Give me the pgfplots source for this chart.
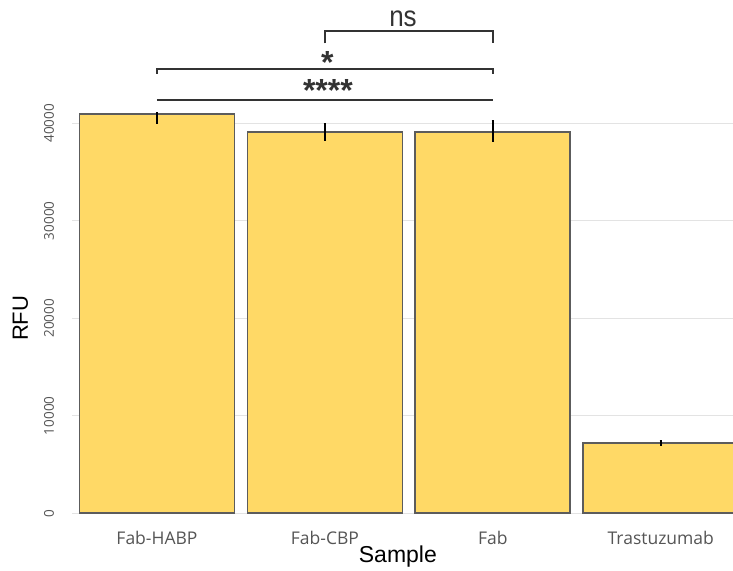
\documentclass[border=0pt]{standalone}
\usepackage{pgfplots}
\pgfplotsset{compat=1.18}
\usepackage{fontspec}
\setmainfont{Liberation Sans}
\newfontfamily\tickfont{Open Sans}
\definecolor{barfill}{HTML}{FFD966}
\definecolor{baredge}{HTML}{5C5C5C}
\definecolor{tickgray}{HTML}{555555}
\definecolor{gridgray}{HTML}{E3E3E3}
\definecolor{brk}{HTML}{333333}
\begin{document}
\begin{tikzpicture}
\useasboundingbox (0bp,0bp) rectangle (733bp,571bp);
\begin{axis}[
  at={(72bp,57.7bp)}, anchor=south west,
  width=661bp, height=487.5bp, scale only axis,
  xmin=-0.506, xmax=3.43, ymin=0, ymax=50000,
  clip=false,
  axis line style={draw=none},
  major tick length=0pt,
  ymajorgrids, grid style={color=gridgray, line width=1bp},
  ytick={0,10000,20000,30000,40000},
  scaled y ticks=false,
  /pgf/number format/.cd, 1000 sep={}, assume math mode=true, /pgfplots/.cd,
  xtick={0,1,2,3},
  xticklabels={Fab-HABP,Fab-CBP,Fab,Trastuzumab},
  xticklabel style={anchor=center, yshift=-25bp, font=\tickfont\fontsize{17.5bp}{17.5bp}\selectfont, color=tickgray},
  yticklabel style={anchor=center, xshift=-23bp, rotate=90, font=\tickfont\fontsize{13.5bp}{13.5bp}\selectfont, color=tickgray},
  xlabel={Sample}, ylabel={RFU},
  xlabel style={at={(axis description cs:0.4930,-0.088)}, anchor=center, font=\fontsize{23bp}{23bp}\selectfont},
  ylabel style={at={(axis description cs:-0.078,0.40)}, anchor=center, rotate=0, font=\fontsize{22bp}{22bp}\selectfont},
  ybar, bar width=0.923,
]
\addplot[fill=barfill, draw=baredge, line width=1.8bp,
  error bars/.cd, y dir=both, y explicit,
  error bar style={black, line width=1.8bp},
  error mark options={black, line width=1.2bp, mark size=1.2bp, rotate=90}]
  coordinates {
  (0,40920) += (0,170) -= (0,920)
  (1,39140) += (0,850) -= (0,925)
  (2,39140) += (0,1100) -= (0,1030)
  (3,7180) += (0,270) -= (0,240)
  };
% significance brackets
\draw[brk, line width=2.2bp] (axis cs:0,42430) -- (axis cs:2,42430);
\draw[brk, line width=2.2bp] (axis cs:0,45080) -- (axis cs:0,45540) -- (axis cs:2,45540) -- (axis cs:2,45080);
\draw[brk, line width=2.2bp] (axis cs:1,48200) -- (axis cs:1,49440) -- (axis cs:2,49440) -- (axis cs:2,48200);
\node[anchor=base, inner sep=0pt, text=brk, font=\bfseries\fontsize{32bp}{32bp}\selectfont] at (axis cs:1.018,43400) {\raisebox{-0.36em}[0.37em][0pt]{****}};
\node[anchor=base, inner sep=0pt, text=brk, font=\bfseries\fontsize{32bp}{32bp}\selectfont] at (axis cs:1.015,46300) {\raisebox{-0.36em}[0.37em][0pt]{*}};
\node[anchor=base, inner sep=0pt, text=brk, font=\fontsize{26bp}{26bp}\selectfont] at (axis cs:1.465,49970) {\scalebox{1}[1.12]{ns}};
\end{axis}
\end{tikzpicture}
\end{document}
